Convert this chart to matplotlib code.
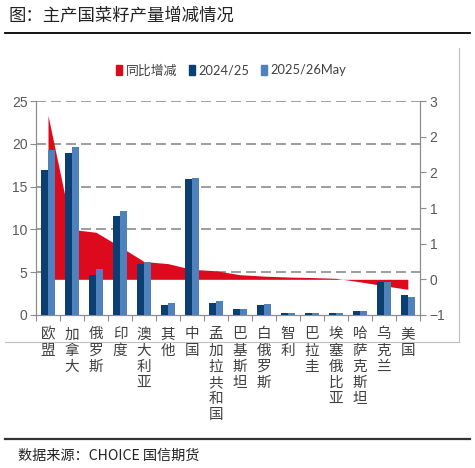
import numpy as np
import matplotlib
matplotlib.use('Agg')
import matplotlib.pyplot as plt
from matplotlib.patches import Patch
from matplotlib.lines import Line2D

plt.rcParams['font.family'] = ['Liberation Sans', 'Noto Sans CJK SC', 'DejaVu Sans']

countries = ['欧盟', '加拿大', '俄罗斯', '印度', '澳大利亚', '其他', '中国', '孟加拉共和国',
             '巴基斯坦', '白俄罗斯', '智利', '巴拉圭', '埃塞俄比亚', '哈萨克斯坦', '乌克兰', '美国']
prod_2425 = [17.0, 18.9, 4.7, 11.6, 6.0, 1.2, 15.9, 1.45, 0.65, 1.15, 0.25, 0.25, 0.25, 0.45, 3.9, 2.35]
prod_2526 = [19.3, 19.6, 5.4, 12.1, 6.2, 1.35, 16.0, 1.6, 0.65, 1.25, 0.25, 0.25, 0.25, 0.45, 3.8, 2.15]
yoy_change = [2.3, 0.7, 0.66, 0.46, 0.25, 0.22, 0.14, 0.12, 0.065, 0.045, 0.032, 0.025, 0.014, -0.035, -0.09, -0.14]

left_ticks = [0, 5, 10, 15, 20, 25]
right_ticks = [-0.5, 0, 0.5, 1, 1.5, 2, 2.5]
right_labels = ['\u22121', '0', '1', '1', '2', '2', '3']

red = '#DC0A1C'
navy = '#0B3F74'
lightblue = '#4F81BD'
gray_txt = '#595959'

fig = plt.figure(figsize=(4.75, 4.68), dpi=100)

# header / footer
fig.text(0.017, 0.966, '图：主产国菜籽产量增减情况', fontsize=12.5, family=['Noto Sans CJK SC'],
         fontweight='light', color='#222222', va='center', ha='left')
fig.add_artist(Line2D([0.01, 0.99], [0.929, 0.929], color='black', lw=1.3))
fig.add_artist(Line2D([0.01, 0.99], [0.062, 0.062], color='#333333', lw=1.6))
fig.text(0.038, 0.026, '数据来源：CHOICE 国信期货', fontsize=10.2, family=['Noto Sans CJK SC'],
         fontweight='light', color='#222222', va='center', ha='left')
# chart area border (right + bottom)
fig.add_artist(Line2D([0.966, 0.966], [0.27, 0.898], color='#BFBFBF', lw=0.8))
fig.add_artist(Line2D([0.01, 0.966], [0.27, 0.27], color='#BFBFBF', lw=0.8))

ax = fig.add_axes([0.0758, 0.327, 0.808, 0.457])
ax2 = ax.twinx()
ax.set_zorder(2)
ax.patch.set_visible(False)
ax2.set_zorder(1)

x = np.arange(len(countries))
w = 0.29

# area on right axis (behind)
ax2.fill_between(x, 0, yoy_change, color=red, lw=0, zorder=2)
ax2.set_ylim(-0.5, 2.5)
ax2.set_yticks(right_ticks)
ax2.set_yticklabels(right_labels)
# dashed grid at left-axis ticks, drawn behind the area
ax2.hlines(left_ticks[1:], 0, 1, transform=ax.get_yaxis_transform(), colors='#8C8C8C',
           linestyles=(0, (6, 3)), lw=1.2, zorder=1)

ax.bar(x - w / 2, prod_2425, w, color=navy, zorder=3)
ax.bar(x + w / 2, prod_2526, w, color=lightblue, zorder=3)
ax.set_ylim(0, 25)
ax.set_yticks(left_ticks)
ax.set_xlim(-0.5, len(countries) - 0.5)

ax.set_xticks(np.arange(len(countries) + 1) - 0.5)
ax.set_xticklabels([])
ax.set_xticks(x, minor=True)
ax.set_xticklabels(['\n'.join(c) for c in countries], minor=True, family=['Noto Sans CJK SC'],
                   fontsize=10.5, fontweight='light', color='#404040', linespacing=1.2, va='top')
ax.tick_params(axis='x', which='minor', length=0, pad=9)
ax.tick_params(axis='x', which='major', length=4, color='#8C8C8C', direction='out')
ax.tick_params(axis='y', length=4, color='#8C8C8C', labelsize=10, labelcolor=gray_txt, pad=2)
ax2.tick_params(axis='y', length=4, color='#8C8C8C', labelsize=10, labelcolor=gray_txt, pad=3)

for a in (ax, ax2):
    a.spines['top'].set_visible(False)
    for s in ('left', 'right', 'bottom'):
        a.spines[s].set_color('#8C8C8C')
        a.spines[s].set_linewidth(0.8)
ax2.tick_params(axis='x', length=0)

handles = [Patch(color=red), Patch(color=navy), Patch(color=lightblue)]
leg = fig.legend(handles, ['同比增减', '2024/25', '2025/26May'], loc='center',
                 bbox_to_anchor=(0.487, 0.85), ncol=3, frameon=False,
                 handlelength=0.45, handleheight=0.9, handletextpad=0.3, columnspacing=0.9,
                 prop={'family': ['Lato', 'Noto Sans CJK SC'], 'size': 9.3})
for t in leg.get_texts():
    t.set_color('#404040')

fig.savefig('out.png', dpi=100)
